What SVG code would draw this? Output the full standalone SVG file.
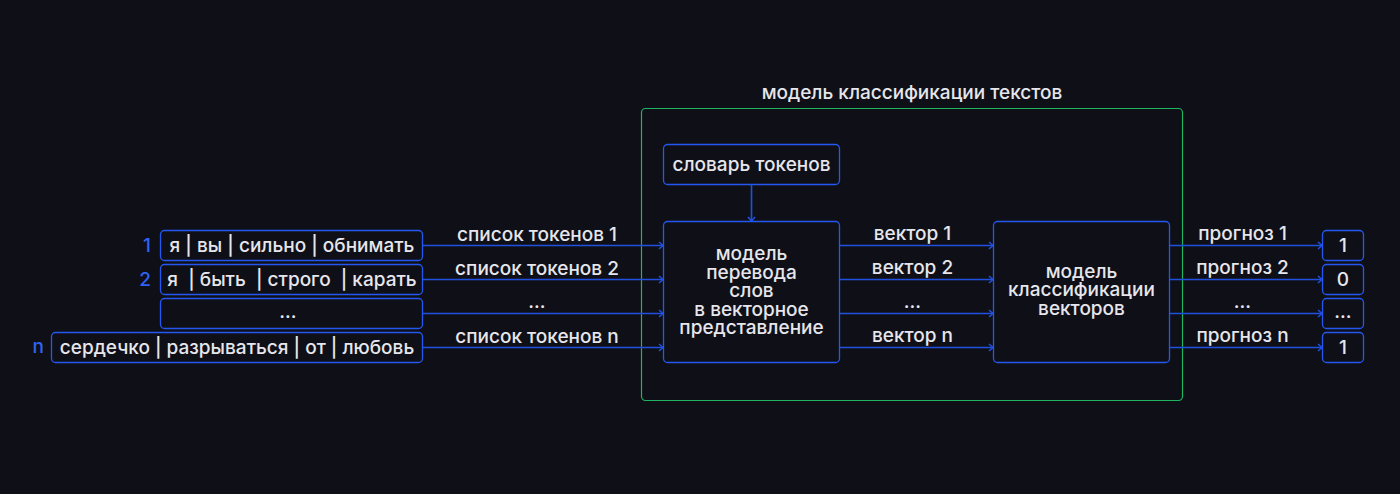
<svg xmlns="http://www.w3.org/2000/svg" width="1400" height="494" viewBox="0 0 1400 494">
<defs>
<style>
.t{font-family:Inter,"Noto Sans","Liberation Sans",sans-serif;font-size:19px;font-weight:500;fill:#e6e6ec;}
.c{text-anchor:middle;}
.num{font-family:Inter,"Noto Sans","Liberation Sans",sans-serif;font-size:19px;font-weight:500;fill:#2f62f5;text-anchor:end;}
.box{fill:#0f1017;stroke:#2457f0;stroke-width:1.3;}
.frame{fill:none;stroke:#1fb462;stroke-width:1.2;}
.ln{stroke:#2150e0;stroke-width:1.6;fill:none;}
</style>
<marker id="ah" markerUnits="userSpaceOnUse" markerWidth="8" markerHeight="10" refX="5" refY="4" orient="auto" viewBox="0 0 8 8">
<path d="M1,0.5 L5,4 L1,7.5" fill="none" stroke="#2150e0" stroke-width="1.5"/>
</marker>
</defs>
<rect width="1400" height="494" fill="#0f1017"/>

<g id="frame">
<rect class="frame" x="641.5" y="108.5" width="541" height="292" rx="4"/>
<text class="t c" x="912" y="98.5">модель классификации текстов</text>
</g>

<g id="connectors">
<path class="ln" d="M422.5,245.5 H663" marker-end="url(#ah)"/>
<path class="ln" d="M422.5,279.5 H663" marker-end="url(#ah)"/>
<path class="ln" d="M422.5,313.5 H663" marker-end="url(#ah)"/>
<path class="ln" d="M422.5,347.5 H663" marker-end="url(#ah)"/>
<path class="ln" d="M751.5,184.5 V221" marker-end="url(#ah)"/>
<path class="ln" d="M839.5,245.5 H993" marker-end="url(#ah)"/>
<path class="ln" d="M839.5,279.5 H993" marker-end="url(#ah)"/>
<path class="ln" d="M839.5,313.5 H993" marker-end="url(#ah)"/>
<path class="ln" d="M839.5,347.5 H993" marker-end="url(#ah)"/>
<path class="ln" d="M1169.5,245.5 H1322" marker-end="url(#ah)"/>
<path class="ln" d="M1169.5,279.5 H1322" marker-end="url(#ah)"/>
<path class="ln" d="M1169.5,313.5 H1322" marker-end="url(#ah)"/>
<path class="ln" d="M1169.5,347.5 H1322" marker-end="url(#ah)"/>
<text class="t c" x="537" y="241">список токенов 1</text>
<text class="t c" x="537" y="275">список токенов 2</text>
<text class="t c" x="537" y="308">...</text>
<text class="t c" x="537" y="343">список токенов n</text>
<text class="t c" x="912.5" y="240">вектор 1</text>
<text class="t c" x="912.5" y="274">вектор 2</text>
<text class="t c" x="912.5" y="308">...</text>
<text class="t c" x="912.5" y="342">вектор n</text>
<text class="t c" x="1242.5" y="240">прогноз 1</text>
<text class="t c" x="1242.5" y="274">прогноз 2</text>
<text class="t c" x="1242.5" y="308">...</text>
<text class="t c" x="1242.5" y="342">прогноз n</text>
</g>

<g id="input1">
<text class="num" x="151" y="252">1</text>
<rect class="box" x="160.5" y="230.5" width="262" height="30" rx="4"/>
<text class="t c" x="292" y="252" style="white-space:pre">я | вы | сильно | обнимать</text>
</g>
<g id="input2">
<text class="num" x="151" y="286">2</text>
<rect class="box" x="160.5" y="264.5" width="262" height="30" rx="4"/>
<text class="t c" x="292" y="286" style="white-space:pre">я  | быть  | строго  | карать</text>
</g>
<g id="input3">
<rect class="box" x="160.5" y="298.5" width="262" height="30" rx="4"/>
<text class="t c" x="288" y="318">...</text>
</g>
<g id="input4">
<text class="num" x="44" y="353">n</text>
<rect class="box" x="51.5" y="332.5" width="371" height="30" rx="4"/>
<text class="t c" x="237" y="354">сердечко | разрываться | от | любовь</text>
</g>

<g id="dictionary">
<rect class="box" x="663.5" y="144.5" width="176" height="40" rx="4"/>
<text class="t c" x="751.5" y="170.5">словарь токенов</text>
</g>

<g id="embedding-model">
<rect class="box" x="663.5" y="221.5" width="176" height="141" rx="4"/>
<text class="t c" x="751.5" y="260">модель</text>
<text class="t c" x="751.5" y="278.5">перевода</text>
<text class="t c" x="751.5" y="297">слов</text>
<text class="t c" x="751.5" y="315.5">в векторное</text>
<text class="t c" x="751.5" y="334">представление</text>
</g>

<g id="classifier">
<rect class="box" x="993.5" y="221.5" width="176" height="141" rx="4"/>
<text class="t c" x="1081.5" y="277.5">модель</text>
<text class="t c" x="1081.5" y="296">классификации</text>
<text class="t c" x="1081.5" y="314.5">векторов</text>
</g>

<g id="out1">
<rect class="box" x="1322.5" y="230.5" width="41" height="30" rx="4"/>
<text class="t c" x="1343" y="252">1</text>
</g>
<g id="out2">
<rect class="box" x="1322.5" y="264.5" width="41" height="30" rx="4"/>
<text class="t c" x="1343" y="286">0</text>
</g>
<g id="out3">
<rect class="box" x="1322.5" y="298.5" width="41" height="30" rx="4"/>
<text class="t c" x="1343" y="318">...</text>
</g>
<g id="out4">
<rect class="box" x="1322.5" y="332.5" width="41" height="30" rx="4"/>
<text class="t c" x="1343" y="354">1</text>
</g>
</svg>
